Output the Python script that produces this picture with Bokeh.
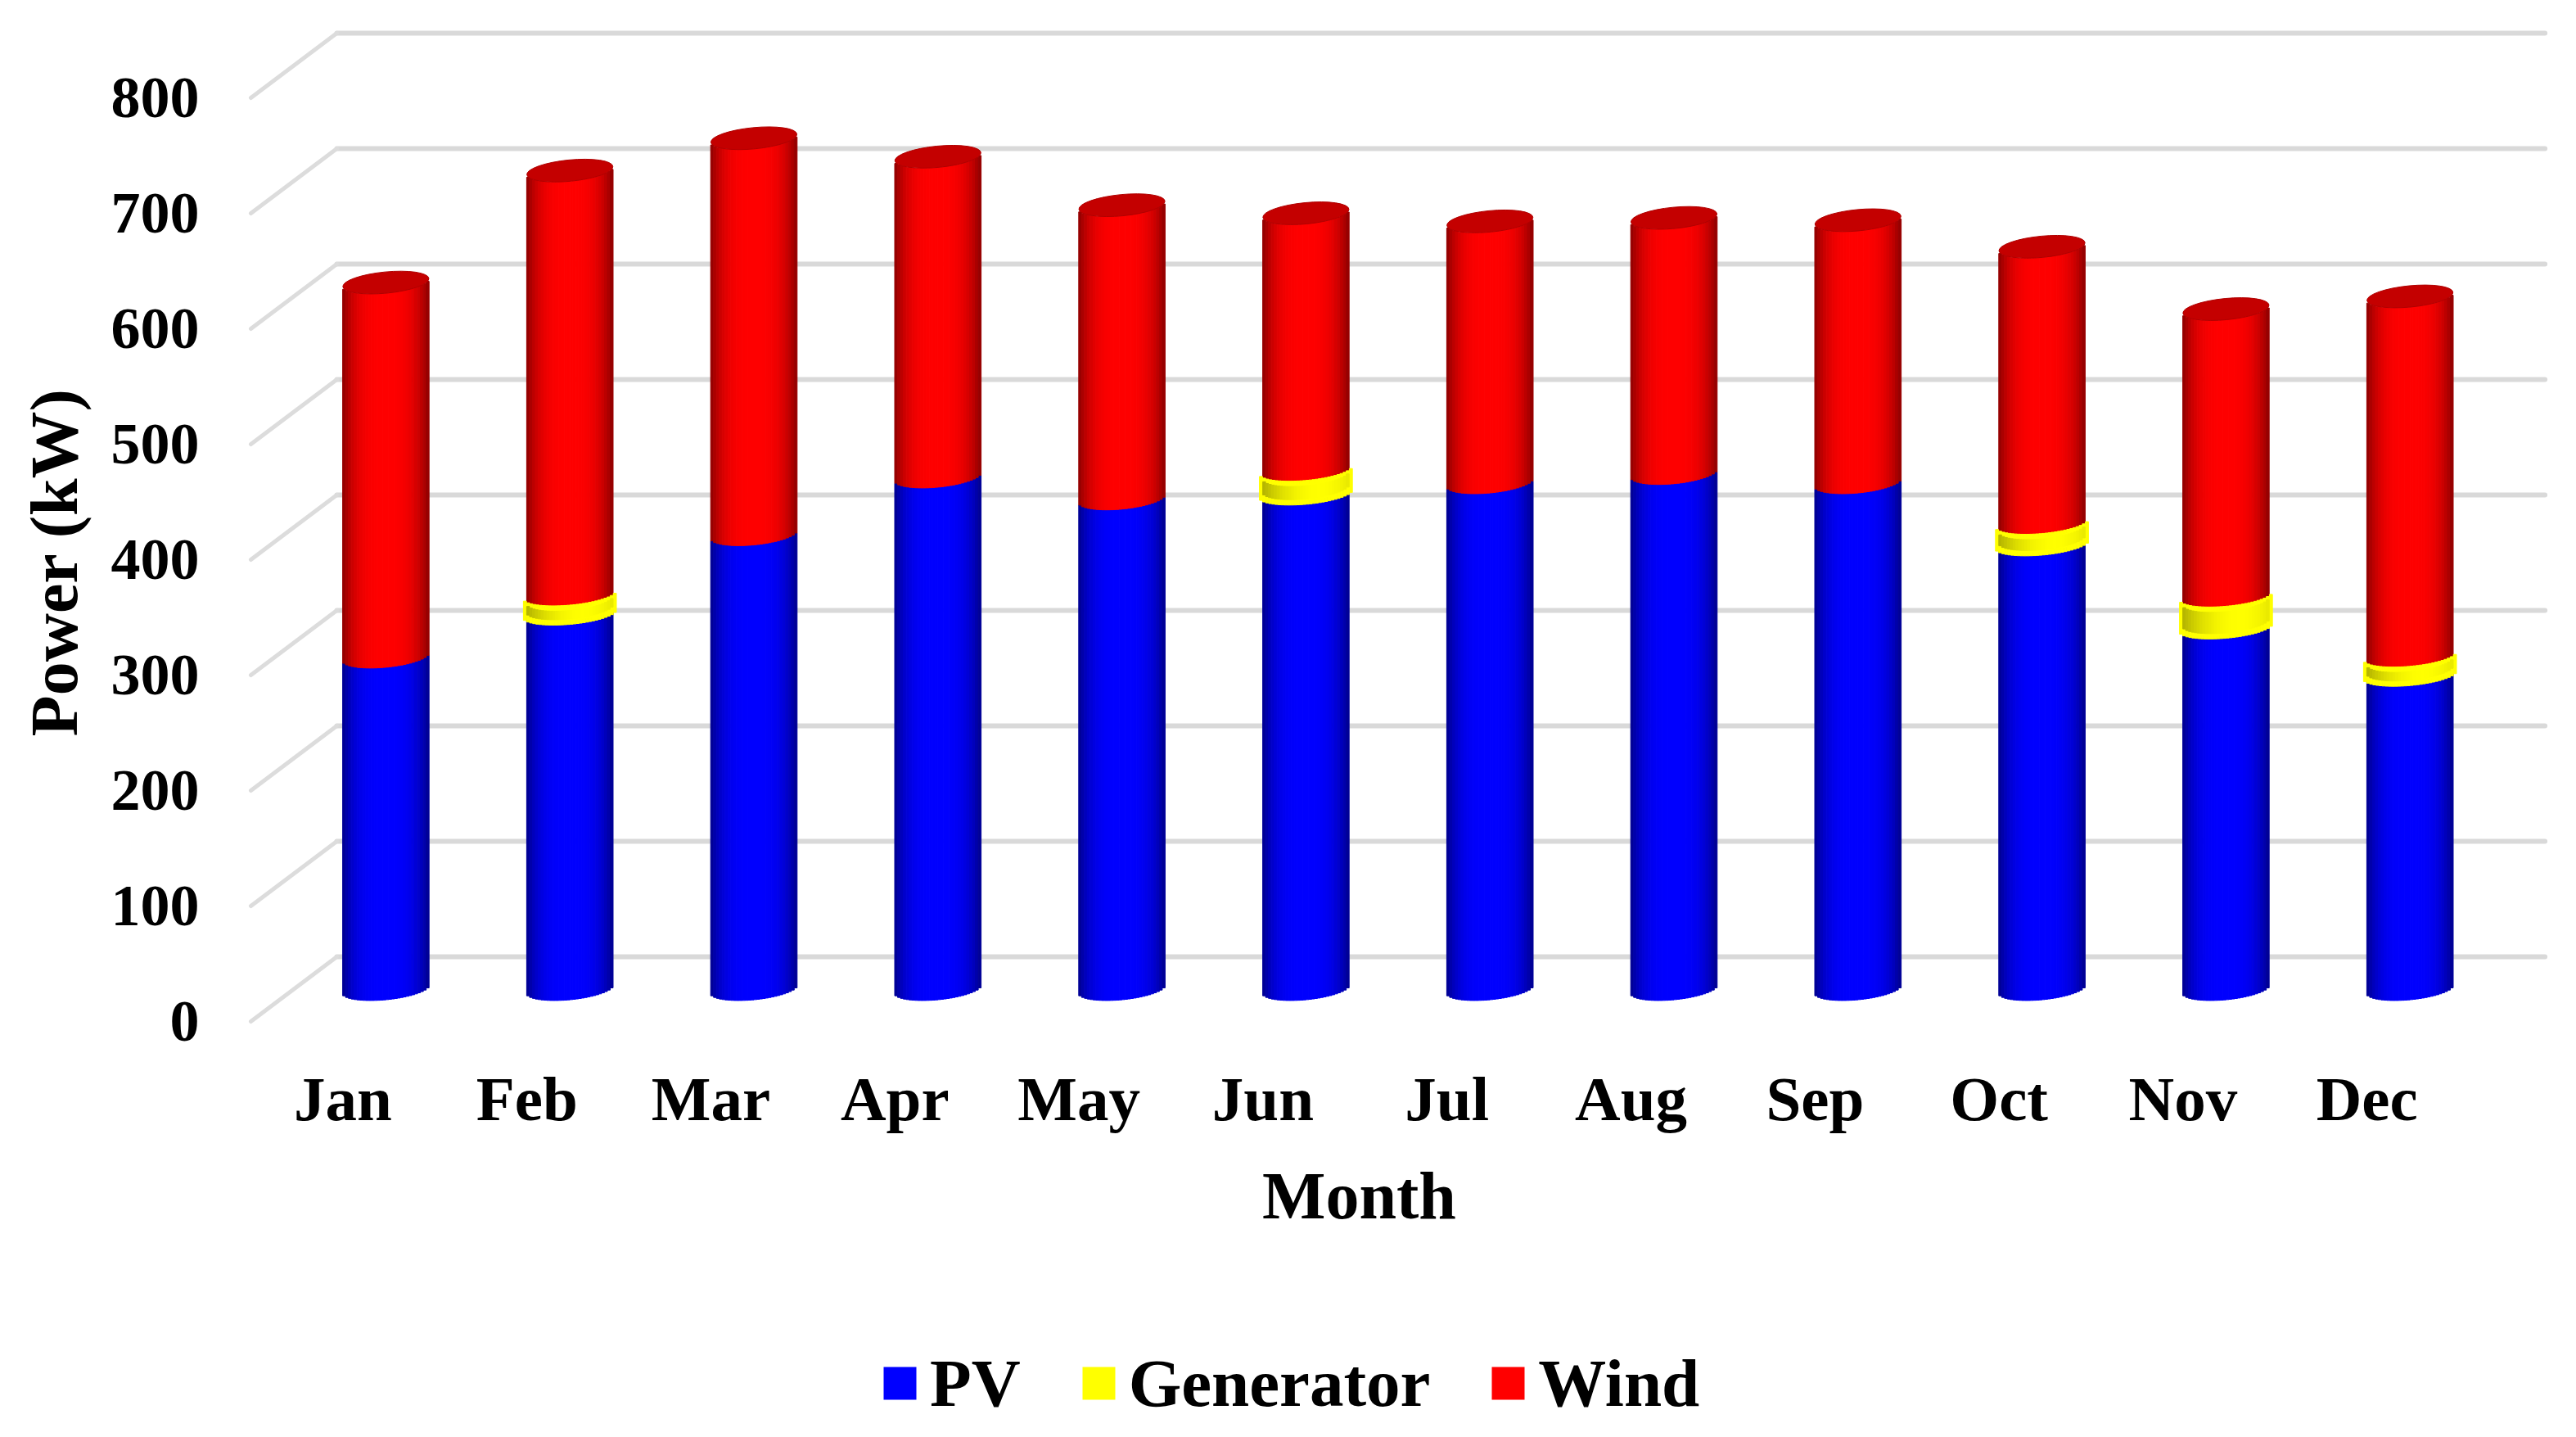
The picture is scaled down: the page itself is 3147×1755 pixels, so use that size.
from math import pi, sqrt
from bokeh.plotting import figure
from bokeh.models import Range1d, Legend, LegendItem, ColumnDataSource
from bokeh.core.properties import value
from bokeh.embed import file_html
from bokeh.resources import INLINE

# ---------------- data ----------------
months = ["Jan", "Feb", "Mar", "Apr", "May", "Jun",
          "Jul", "Aug", "Sep", "Oct", "Nov", "Dec"]
pv = [288, 328, 394, 444, 425, 432, 439, 447, 439, 388, 316, 275]
generator = [0, 11, 0, 0, 0, 15, 0, 0, 0, 13, 22, 11]
wind = [324, 370, 343, 277, 254, 225, 226, 221, 227, 242, 251, 314]
y_ticks = [0, 100, 200, 300, 400, 500, 600, 700, 800]
y_tick_labels = ["0", "100", "200", "300", "400", "500", "600", "700", "800"]
series_names = ["PV", "Generator", "Wind"]
series_colors = ["#0000FF", "#FFFF00", "#FF0000"]
x_title = "Month"
y_title = "Power (kW)"

# ---------------- layout (pixels) ----------------
FIG_W, FIG_H = 3131, 1739
M = 0                      # offset of figure in screenshot
X0_PX = 411 - M            # back wall left edge (figure px)
Y0_PX = 1168 - M           # back wall zero line (figure px from top)
CAT_PX = 224.8             # px per category
VAL_PX = 1.41              # px per kW

x_start = -X0_PX / CAT_PX
x_end = x_start + FIG_W / CAT_PX
y_end = Y0_PX / VAL_PX
y_start = y_end - FIG_H / VAL_PX


def xd(px_ref):
    return x_start + (px_ref - M) / CAT_PX


def yd(py_ref):
    return y_end - (py_ref - M) / VAL_PX


DX_FRONT = -105 / CAT_PX
DY_FRONT = -79 / VAL_PX
MID_DX = DX_FRONT / 2
MID_DY = DY_FRONT / 2

BW = 105.6 / CAT_PX        # cylinder width
HH = 13 / VAL_PX           # half height of cylinder ellipse
TILT = 5 / VAL_PX          # perspective tilt of ellipses
ANG = 0.096
N = 30

FONT_NAME = "Liberation Serif"
FONT = value(FONT_NAME)

p = figure(width=FIG_W, height=FIG_H, output_backend="svg", toolbar_location=None,
           x_range=Range1d(x_start, x_end), y_range=Range1d(y_start, y_end),
           x_axis_location=None, y_axis_location=None, min_border=0,
           background_fill_color="white", border_fill_color="white")
p.outline_line_color = None
p.grid.visible = False

# ---------------- gridlines (back wall + floor diagonals) ----------------
n_cat = len(months)
p.segment(x0=[0] * len(y_ticks), y0=y_ticks, x1=[n_cat] * len(y_ticks), y1=y_ticks,
          line_color="#D9D9D9", line_width=6, line_cap="round")
p.segment(x0=[0] * len(y_ticks), y0=y_ticks, x1=[DX_FRONT] * len(y_ticks),
          y1=[v + DY_FRONT for v in y_ticks],
          line_color="#DCDCDC", line_width=5, line_cap="round")


# ---------------- cylinders ----------------
def hexcol(r, g, b):
    return "#%02x%02x%02x" % (int(max(0, min(255, r))), int(max(0, min(255, g))), int(max(0, min(255, b))))


def body_shade(t):
    return 1 - 0.45 * abs(t) ** 3


ts = [-1 + (2 * k + 1) / N for k in range(N)]


def add_strips(store, cx, width, lo, hi, colfun):
    sw = width / N
    for k, t in enumerate(ts):
        arc = HH * sqrt(max(0.0, 1 - t * t))
        off = -arc + TILT * t
        store["x"].append(cx + t * width / 2)
        store["w"].append(sw)
        store["bottom"].append(lo + off)
        store["top"].append(hi + off)
        store["color"].append(colfun(t))


body = {"x": [], "w": [], "bottom": [], "top": [], "color": []}
ring_outer = {"x": [], "w": [], "bottom": [], "top": [], "color": []}
ring_inner = {"x": [], "w": [], "bottom": [], "top": [], "color": []}
caps = {"x": [], "y": []}

for i in range(n_cat):
    cx = i + 0.5 + MID_DX
    a = pv[i]
    g = generator[i]
    tot = pv[i] + generator[i] + wind[i]
    add_strips(body, cx, BW, 0 + MID_DY, a + MID_DY,
               lambda t: hexcol(0, 0, 255 * body_shade(t)))
    add_strips(body, cx, BW, a + g + MID_DY, tot + MID_DY,
               lambda t: hexcol(255 * body_shade(t), 0, 0))
    caps["x"].append(cx)
    caps["y"].append(tot + MID_DY)
    if g > 0:
        ext = 4 / VAL_PX
        add_strips(ring_outer, cx, BW + 8 / CAT_PX, a - ext + MID_DY, a + g + ext + MID_DY,
                   lambda t: "#FFFF00")
        inset = 2.5 / VAL_PX
        add_strips(ring_inner, cx, BW, a + inset + MID_DY, a + g - inset + MID_DY,
                   lambda t: hexcol(255 * (1 - 0.3 * ((t - 0.3) / 1.3) ** 2),
                                    255 * (1 - 0.3 * ((t - 0.3) / 1.3) ** 2), 0))

p.vbar(x="x", width="w", bottom="bottom", top="top", source=ColumnDataSource(body),
       fill_color="color", line_color="color", line_width=1)
p.ellipse(x="x", y="y", width=BW, height=2 * HH, angle=ANG, source=ColumnDataSource(caps),
          fill_color="#C40000", line_color="#B00000", line_width=1)
p.vbar(x="x", width="w", bottom="bottom", top="top", source=ColumnDataSource(ring_outer),
       fill_color="color", line_color="color", line_width=1)
p.vbar(x="x", width="w", bottom="bottom", top="top", source=ColumnDataSource(ring_inner),
       fill_color="color", line_color="color", line_width=1)

# ---------------- axis texts ----------------
p.text(x=[DX_FRONT - 63 / CAT_PX] * len(y_ticks), y=[v + DY_FRONT for v in y_ticks],
       text=y_tick_labels, text_font=FONT, text_font_style="bold",
       text_font_size=value("72px"), text_align="right", text_baseline="middle",
       text_color="black")
p.text(x=[i + 0.5 + DX_FRONT for i in range(n_cat)], y=[yd(1341)] * n_cat, text=months,
       text_font=FONT, text_font_style="bold", text_font_size=value("77px"),
       text_align="center", text_baseline="middle", text_color="black")
p.text(x=[xd(1660)], y=[yd(1460)], text=[x_title], text_font=FONT, text_font_style="bold",
       text_font_size=value("82px"), text_align="center", text_baseline="middle",
       text_color="black")
p.text(x=[xd(66)], y=[yd(686)], text=[y_title], angle=pi / 2, text_font=FONT,
       text_font_style="bold", text_font_size=value("82px"), text_align="center",
       text_baseline="middle", text_color="black")

# ---------------- legend ----------------
items = []
for name, color in zip(series_names, series_colors):
    r = p.rect(x=[x_start - 5], y=[0], width=0.1, height=1, fill_color=color, line_color=None)
    items.append(LegendItem(label=name, renderers=[r]))
legend = Legend(items=items, orientation="horizontal", location=(1074 - M, 2),
                glyph_width=50, glyph_height=50, label_standoff=12, spacing=70,
                padding=0, margin=0, border_line_color=None, background_fill_alpha=0,
                label_text_font=FONT_NAME, label_text_font_size="83px",
                label_text_font_style="bold", label_text_color="black")
p.add_layout(legend)

open("out.html", "w").write(file_html(p, INLINE))
